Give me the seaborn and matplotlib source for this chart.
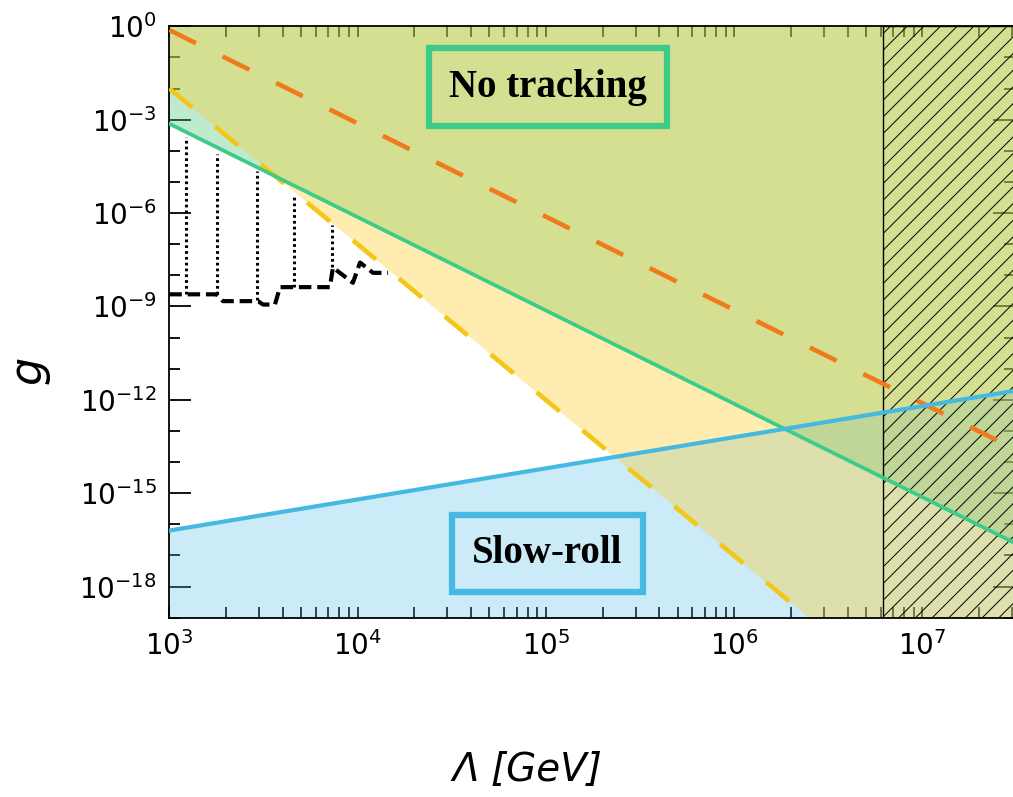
import numpy as np
import pandas as pd
import matplotlib
matplotlib.use("Agg")
import matplotlib.pyplot as plt
import matplotlib.ticker as mticker
import seaborn as sns

# ---------------- data ----------------
# straight bounds in log-log space: end points (Lambda [GeV], g)
lam_ends = [1.0e3, 3.1e7]
g_orange = [0.76, 2.6e-14]          # dashed orange
g_green = [7.4e-4, 2.5e-17]         # "No tracking" bound
g_blue = [6.3e-17, 1.95e-12]        # "Slow-roll" bound
lam_yellow = [1.0e3, 2.5e6, 3.1e7]  # dashed yellow bound (reaches the floor)
g_yellow = [1.0e-2, 1.0e-19, 1.0e-19]

# experimental step-like bound (black dashed)
lam_exp = [1000, 1786, 1928, 2958, 3148, 3639, 3873, 7129, 7396, 9441, 10304, 12078, 14521]
g_exp = [2.45e-9, 2.45e-9, 1.48e-9, 1.48e-9, 1.15e-9, 1.15e-9, 4.17e-9, 4.17e-9,
         1.78e-8, 5.75e-9, 2.57e-8, 1.2e-8, 1.2e-8]

# dotted vertical segments
lam_dot = [1222, 1800, 2911, 4592, 7345]
g_dot_top = [2.75e-4, 7.9e-5, 2.2e-5, 3.6e-6, 4.1e-7]
g_dot_bot = [2.5e-9, 2.5e-9, 1.6e-9, 4.3e-9, 1.8e-8]

# excluded (hatched) region
lam_hatch_min = 6.15e6

x_range = [1.0e3, 3.1e7]
y_range = [1.0e-19, 1.0]

region_labels = ["No tracking", "Slow-roll"]
xlabel = "Λ [GeV]"
ylabel = "g"

# ---------------- style ----------------
sns.set_theme(style="ticks")
plt.rcParams["font.family"] = ["DejaVu Sans"]
plt.rcParams["mathtext.fontset"] = "custom"
plt.rcParams["mathtext.rm"] = "Liberation Sans"
plt.rcParams["mathtext.it"] = "Liberation Sans:italic"
plt.rcParams["mathtext.bf"] = "Liberation Sans:bold"
plt.rcParams["mathtext.default"] = "regular"
plt.rcParams["hatch.linewidth"] = 0.7
plt.rcParams["hatch.color"] = "black"

c_orange = "#F07A1C"
c_yellow = "#F5C518"
c_green = "#3DCB8A"
c_blue = "#45B9E2"
f_green = "#50C878"
f_blue = "#50BEE6"
f_yellow = "#FFCD28"

fig = plt.figure(figsize=(10.13, 7.97), dpi=100)
ax = fig.add_axes([169.3 / 1013, 179.3 / 797, (1015 - 169.3) / 1013, 591.4 / 797])
ax.set_xscale("log")
ax.set_yscale("log")
ax.set_xlim(*x_range)
ax.set_ylim(*y_range)

# ---------------- filled regions ----------------
ax.fill_between(lam_ends, g_green, y_range[1], color=f_green, alpha=0.37, lw=0, zorder=1)
ax.fill_between(lam_ends, y_range[0], g_blue, color=f_blue, alpha=0.30, lw=0, zorder=1.1)
ax.fill_between(lam_yellow, g_yellow, y_range[1], color=f_yellow, alpha=0.36, lw=0, zorder=1.2)

# hatched region
ax.axvspan(lam_hatch_min, x_range[1], facecolor="none", edgecolor="black",
           hatch="//", linewidth=1.0, zorder=1.5)

# ---------------- lines ----------------
df_or = pd.DataFrame({"lam": lam_ends, "g": g_orange})
df_gr = pd.DataFrame({"lam": lam_ends, "g": g_green})
df_bl = pd.DataFrame({"lam": lam_ends, "g": g_blue})
df_ye = pd.DataFrame({"lam": lam_yellow[:2], "g": g_yellow[:2]})
df_ex = pd.DataFrame({"lam": lam_exp, "g": g_exp})

sns.lineplot(data=df_or, x="lam", y="g", ax=ax, color=c_orange, lw=3.3,
             linestyle=(0, (6.5, 6.5)), zorder=3)
sns.lineplot(data=df_ye, x="lam", y="g", ax=ax, color=c_yellow, lw=3.3,
             linestyle=(0, (6.5, 6.5)), zorder=3)
sns.lineplot(data=df_gr, x="lam", y="g", ax=ax, color=c_green, lw=2.7, zorder=3)
sns.lineplot(data=df_bl, x="lam", y="g", ax=ax, color=c_blue, lw=3.0, zorder=3)
sns.lineplot(data=df_ex, x="lam", y="g", ax=ax, color="black", lw=3.0,
             linestyle=(0, (3.0, 1.4)), estimator=None, sort=False, zorder=4)
ax.vlines(lam_dot, g_dot_bot, g_dot_top, colors="black", linewidth=2.2,
          linestyles=(0, (0.9, 1.0)), zorder=4)

# ---------------- region labels ----------------
ax.text(0.448, 0.897, region_labels[0], transform=ax.transAxes, ha="center", va="center",
        fontsize=28, fontweight="bold", family="Liberation Serif", color="black", zorder=6,
        bbox=dict(boxstyle="square,pad=0.52", facecolor="none", edgecolor=c_green, linewidth=4.5))
ax.text(0.447, 0.109, region_labels[1], transform=ax.transAxes, ha="center", va="center",
        fontsize=28, fontweight="bold", family="Liberation Serif", color="black", zorder=6,
        bbox=dict(boxstyle="square,pad=0.52", facecolor="none", edgecolor=c_blue, linewidth=4.5))

# ---------------- axes / ticks ----------------
fmt = mticker.FuncFormatter(lambda v, p: r"$10^{%d}$" % int(round(np.log10(v))))
ax.xaxis.set_major_locator(mticker.LogLocator(base=10, numticks=20))
ax.xaxis.set_minor_locator(mticker.LogLocator(base=10, subs=np.arange(2, 10), numticks=50))
ax.xaxis.set_major_formatter(fmt)
ax.xaxis.set_minor_formatter(mticker.NullFormatter())
ax.yaxis.set_major_locator(mticker.FixedLocator(10.0 ** np.arange(-18, 1, 3)))
ax.yaxis.set_minor_locator(mticker.FixedLocator(10.0 ** np.arange(-19, 1)))
ax.yaxis.set_major_formatter(fmt)
ax.yaxis.set_minor_formatter(mticker.NullFormatter())

ax.tick_params(axis="both", which="both", direction="in", top=True, right=True,
               width=1.3, color="black", labelsize=20, labelcolor="black")
ax.tick_params(axis="x", which="both", length=8, pad=10)
ax.tick_params(axis="y", which="major", length=16, pad=9)
ax.tick_params(axis="y", which="minor", length=8)
for s in ax.spines.values():
    s.set_linewidth(1.3)
    s.set_color("black")
ax.set_xlabel("")
ax.set_ylabel("")
ax.grid(False)

fig.text(527 / 1013, 1 - 770 / 797, xlabel, ha="center", va="center", fontsize=28,
         style="italic", color="black")
fig.text(28 / 1013, 1 - 370 / 797, ylabel, ha="center", va="center", fontsize=32,
         style="italic", rotation=90, color="black")

fig.savefig("out.png", dpi=100)
